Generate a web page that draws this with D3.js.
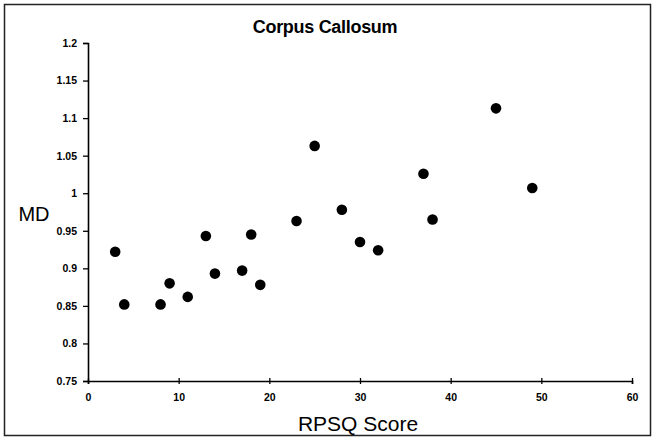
<!DOCTYPE html>
<html><head><meta charset="utf-8">
<script src="https://cdn.jsdelivr.net/npm/d3@7"></script>
<style>body{margin:0;background:#fff}svg{display:block}</style>
</head><body>
<script>
const rpsq = [3,4,8,9,11,13,14,17,18,19,23,25,28,30,32,37,38,45,49];
const md = [0.922,0.852,0.852,0.88,0.862,0.943,0.893,0.897,0.945,0.878,0.963,1.063,0.978,0.935,0.924,1.026,0.965,1.113,1.007];
const xTicks = [0,10,20,30,40,50,60];
const yTicks = [0.75,0.8,0.85,0.9,0.95,1,1.05,1.1,1.15,1.2];
const title = "Corpus Callosum", xTitle = "RPSQ Score", yTitle = "MD";

const W = 655, H = 438;
const svg = d3.select("body").append("svg").attr("width", W).attr("height", H);
svg.append("rect").attr("x",4.5).attr("y",4.5).attr("width",646).attr("height",431)
  .attr("fill","#fff").attr("stroke","#222").attr("stroke-width",1.5);

const x = d3.scaleLinear().domain([0,60]).range([88,632]);
const y = d3.scaleLinear().domain([0.75,1.2]).range([381,43]);
const tickFont = "'Liberation Sans Narrow','Liberation Sans',Arial,sans-serif";

const xa = svg.append("g").attr("transform",`translate(0,${y(0.75)})`)
  .call(d3.axisBottom(x).tickValues(xTicks).tickFormat(d3.format("d")).tickSize(3).tickPadding(10));
const ya = svg.append("g").attr("transform",`translate(${x(0)},0)`)
  .call(d3.axisLeft(y).tickValues(yTicks).tickFormat(d=>String(d)).tickSize(5).tickPadding(6));
[xa,ya].forEach(g=>{
  g.select(".domain").attr("stroke","#000").attr("stroke-width",1.6);
  g.selectAll(".tick line").attr("stroke","#000").attr("stroke-width",1.3);
  g.selectAll("text").attr("fill","#000").style("font-family",tickFont)
   .style("font-weight","bold").style("font-size","10.5px");
});
xa.selectAll(".tick line").attr("y1",-3);

svg.append("g").selectAll("circle").data(rpsq).join("circle")
  .attr("cx",(d)=>x(d)).attr("cy",(d,i)=>y(md[i])).attr("r",5.3).attr("fill","#000");

svg.append("text").attr("x",325).attr("y",33).attr("text-anchor","middle")
  .style("font-family",tickFont).style("font-weight","bold").style("font-size","18px")
  .style("letter-spacing","-0.3px").text(title);
svg.append("text").attr("x",358).attr("y",431).attr("text-anchor","middle")
  .style("font-family","'Liberation Sans',Arial,sans-serif").style("font-size","21px").text(xTitle);
svg.append("text").attr("x",34).attr("y",221).attr("text-anchor","middle")
  .style("font-family","'Liberation Sans',Arial,sans-serif").style("font-size","20px").text(yTitle);
</script>
</body></html>
